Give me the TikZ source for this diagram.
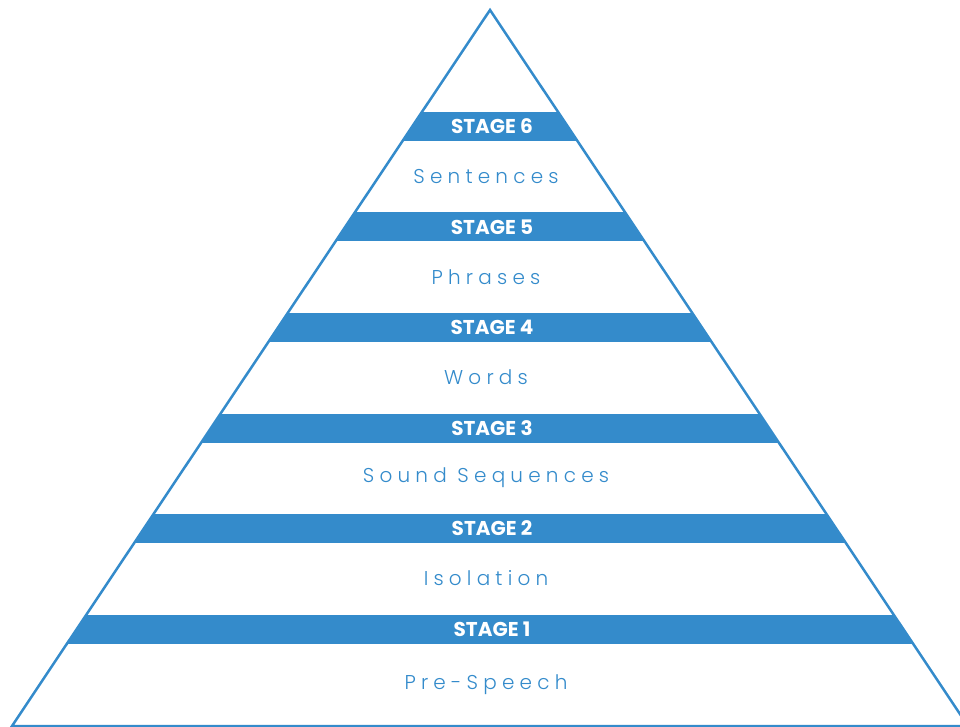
\documentclass[tikz,border=0pt]{standalone}
\usepackage{fontspec}
\setmainfont{Poppins}
\newfontfamily\stagefont{Poppins}
\newfontfamily\levelfont[LetterSpace=26]{Poppins Light}
\definecolor{stageblue}{HTML}{348BCB}
\tikzset{
  pyr/.style={draw=stageblue, line width=2.5pt, line join=miter},
  band/.style={fill=stageblue},
  stagelbl/.style={text=white, inner sep=0pt, font=\stagefont\bfseries\fontsize{20}{20}\selectfont},
  levellbl/.style={text=stageblue, inner sep=0pt, font=\levelfont\fontsize{20}{20}\selectfont},
}
\begin{document}
\begin{tikzpicture}[x=1pt, y=-1pt]
  \useasboundingbox (0,0) rectangle (960,727);
  \coordinate (apex) at (490,10);
  \coordinate (bl) at (12,726);
  \coordinate (br) at (968,726);
  % stage bars, cut to the pyramid outline
  \begin{scope}
    \clip (apex) -- (bl) -- (br) -- cycle;
    \foreach \k in {1,...,6} {
      \pgfmathsetmacro{\bandtop}{614.5-100.5*(\k-1)}
      \fill[band] (0,\bandtop) rectangle (960,\bandtop+29);
      \node[stagelbl] (stage\k) at (492,\bandtop+14.5) {STAGE \k};
    }
  \end{scope}
  \draw[pyr] (apex) -- (bl) -- (br) -- cycle;
  % one level between each pair of bars
  \node[levellbl] (prespeech) at (486,684.5) {Pre-Speech};
  \node[levellbl] (isolation) at (486,578.5) {Isolation};
  \node[levellbl] (sounds)    at (486,478)   {Sound Sequences};
  \node[levellbl] (words)     at (486,377.5) {Words};
  \node[levellbl] (phrases)   at (486,277.5) {Phrases};
  \node[levellbl] (sentences) at (486,176.5) {Sentences};
\end{tikzpicture}
\end{document}
